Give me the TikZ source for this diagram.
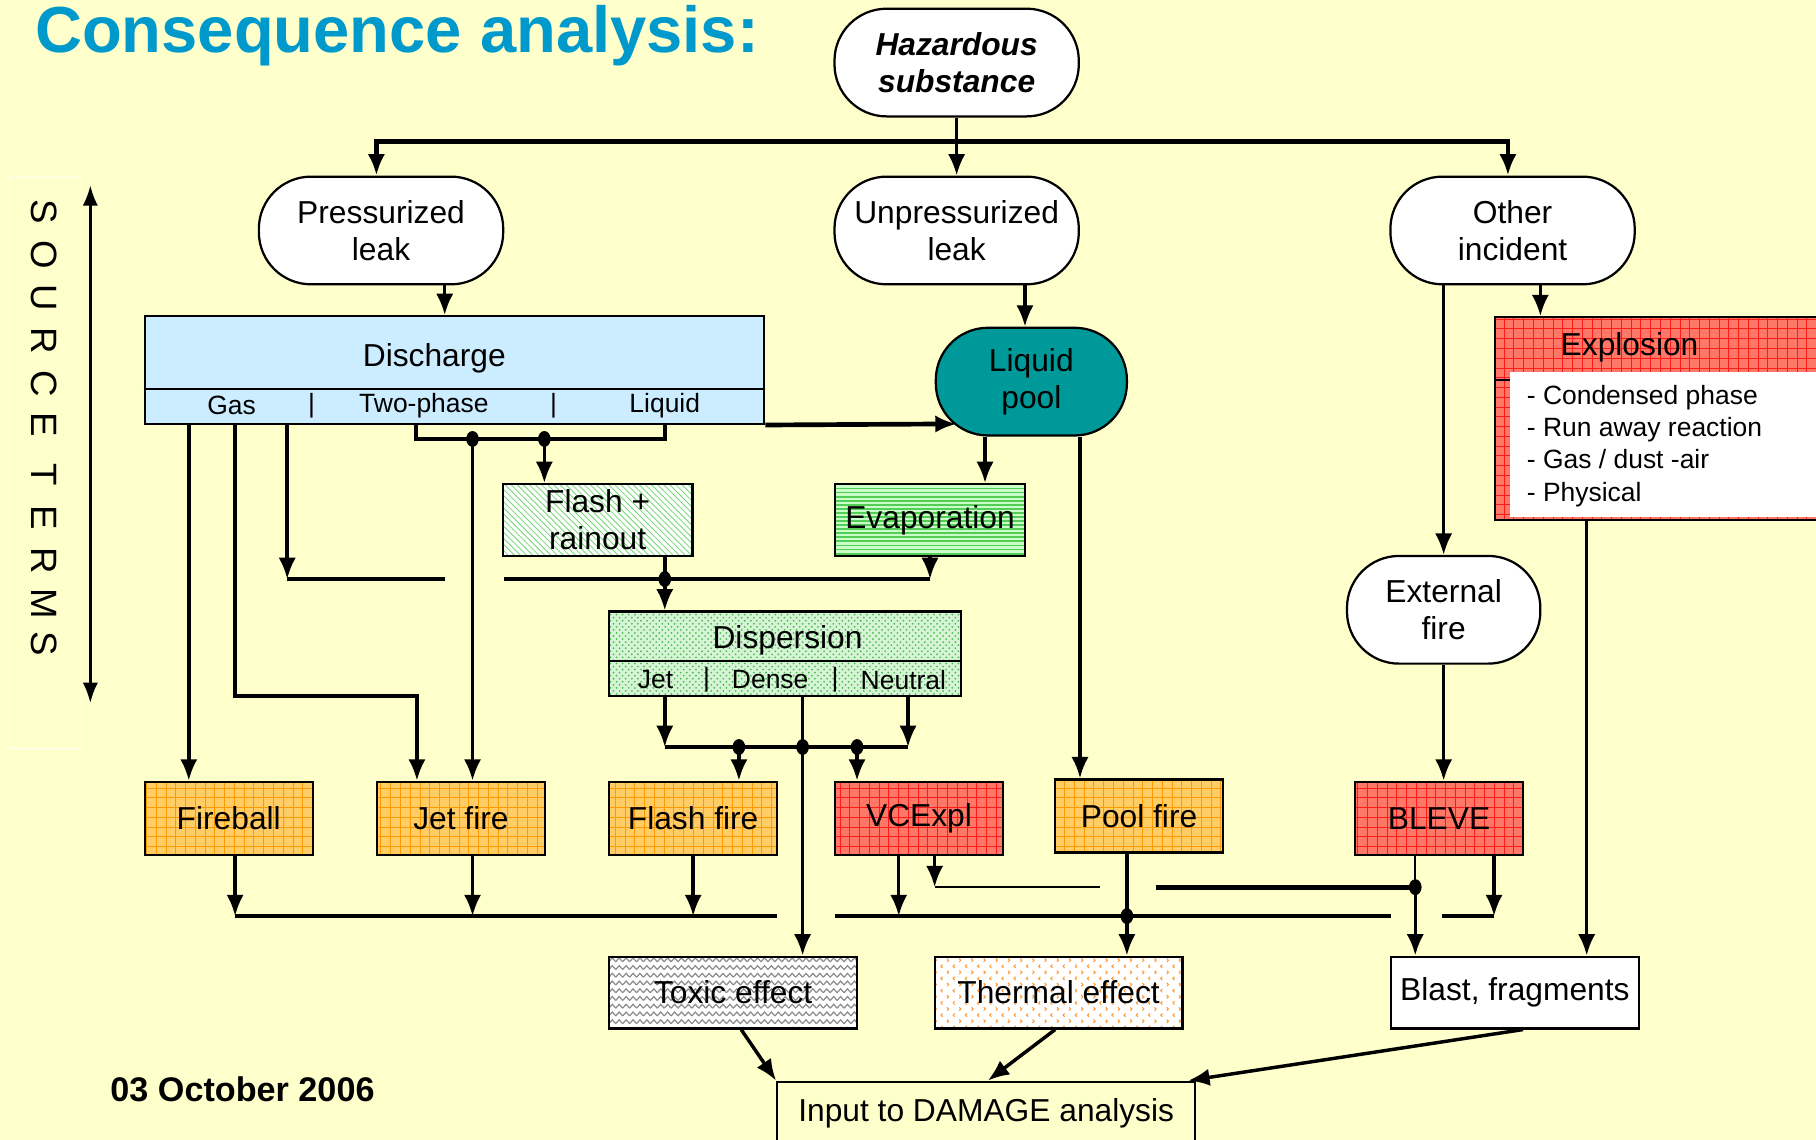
\documentclass[tikz,border=0pt]{standalone}
\usepackage{fontspec}
\setmainfont{Liberation Sans}
\usetikzlibrary{arrows.meta,positioning,calc,patterns}
\definecolor{slideBg}  {HTML}{FFFFCC}
\definecolor{titleBlue}{HTML}{0099CC}
\definecolor{dischFill}{HTML}{CCECFF}
\definecolor{poolTeal} {HTML}{009999}
\definecolor{fireFill} {HTML}{FFCC66}
\definecolor{fireLine} {HTML}{FF9900}
\definecolor{blastFill}{HTML}{FF7766}
\definecolor{blastLine}{HTML}{FF1A1A}
\definecolor{evapFill} {HTML}{C8FFC8}
\definecolor{evapLine} {HTML}{55CC55}
\definecolor{rainLine} {HTML}{77D877}
\definecolor{dispFill} {HTML}{D6F5D6}
\definecolor{dispDot}  {HTML}{55BB55}
\definecolor{toxLine}  {HTML}{8C8C8C}
\definecolor{heatMark} {HTML}{FF9933}
\newcommand{\mainSize}{\fontsize{15.6}{18.1}\selectfont}
\newcommand{\subSize}{\fontsize{13}{15.9}\selectfont}

\pgfdeclarepatternformonly{cellGrid}{\pgfqpoint{-0.5pt}{-0.5pt}}{\pgfqpoint{5.3pt}{5.3pt}}{\pgfqpoint{4.8pt}{4.8pt}}{%
  \pgfsetlinewidth{0.45pt}%
  \pgfpathmoveto{\pgfqpoint{0pt}{0pt}}\pgfpathlineto{\pgfqpoint{4.8pt}{0pt}}%
  \pgfpathmoveto{\pgfqpoint{0pt}{0pt}}\pgfpathlineto{\pgfqpoint{0pt}{4.8pt}}%
  \pgfusepath{stroke}}
\pgfdeclarepatternformonly{thinRows}{\pgfqpoint{-0.5pt}{-0.5pt}}{\pgfqpoint{2.5pt}{2.5pt}}{\pgfqpoint{2pt}{2pt}}{%
  \pgfsetlinewidth{0.9pt}%
  \pgfpathmoveto{\pgfqpoint{-0.1pt}{0pt}}\pgfpathlineto{\pgfqpoint{2.1pt}{0pt}}%
  \pgfusepath{stroke}}
\pgfdeclarepatternformonly{zigRows}{\pgfqpoint{-0.5pt}{-0.5pt}}{\pgfqpoint{4pt}{4.5pt}}{\pgfqpoint{3.4pt}{3.8pt}}{%
  \pgfsetlinewidth{0.6pt}%
  \pgfpathmoveto{\pgfqpoint{0pt}{0pt}}\pgfpathlineto{\pgfqpoint{1.7pt}{1.9pt}}\pgfpathlineto{\pgfqpoint{3.4pt}{0pt}}%
  \pgfusepath{stroke}}
\pgfdeclarepatternformonly{heatTicks}{\pgfqpoint{-0.5pt}{-0.5pt}}{\pgfqpoint{6.5pt}{6.5pt}}{\pgfqpoint{6pt}{6pt}}{%
  \pgfsetlinewidth{0.5pt}%
  \pgfpathmoveto{\pgfqpoint{1.2pt}{0.4pt}}\pgfpathlineto{\pgfqpoint{0.4pt}{1.2pt}}\pgfpathlineto{\pgfqpoint{1.2pt}{2pt}}%
  \pgfpathmoveto{\pgfqpoint{3.4pt}{3.4pt}}\pgfpathlineto{\pgfqpoint{4.2pt}{4.2pt}}\pgfpathlineto{\pgfqpoint{3.4pt}{5pt}}%
  \pgfusepath{stroke}}

\tikzset{
  >=Latex,
  leakNode/.style={draw,line width=1.1pt,fill=white,rounded corners=0.9cm,
                   minimum width=4.22cm,minimum height=1.86cm,
                   align=center,font=\mainSize,inner sep=2pt},
  stepBox/.style={draw,line width=1.1pt,minimum width=2.9cm,minimum height=1.26cm,
                  align=center,font=\mainSize,inner sep=1pt},
  fireBox/.style={stepBox,preaction={fill=fireFill},pattern=cellGrid,pattern color=fireLine},
  blastBox/.style={stepBox,preaction={fill=blastFill},pattern=cellGrid,pattern color=blastLine},
  effectBox/.style={stepBox,minimum width=4.28cm,minimum height=1.24cm},
  splitBox/.style={draw,line width=1.1pt,inner sep=0pt},
  subLbl/.style={font=\subSize,inner sep=0pt},
  flowArr/.style={-{Latex[length=10.5pt,width=8.5pt]},line width=1.7pt},
  flowLine/.style={line width=1.7pt},
  busLine/.style={line width=2.3pt},
  thinLine/.style={line width=0.9pt},
}

\begin{document}
\begin{tikzpicture}[x=0.02cm,y=-0.02cm]
\useasboundingbox (0,0) rectangle (1568,984);
\clip (0,0) rectangle (1568,984);
\fill[slideBg] (0,0) rectangle (1568,984);

\node[anchor=base west,inner sep=0pt,text=titleBlue,
      font=\fontsize{32}{36}\selectfont\bfseries] (title) at (30,45) {Consequence analysis:};
\node[anchor=base west,inner sep=0pt,
      font=\fontsize{16.8}{20}\selectfont\bfseries] (dateTxt) at (95,951) {03 October 2006};

% source terms strip
\node[draw=white,line width=0.6pt,anchor=north west,minimum width=1.24cm,
      minimum height=9.86cm,inner sep=0pt] (srcBox) at (8,153) {};
\foreach \ch/\yy [count=\i] in {S/183,O/220,U/257,R/294,C/331,E/367,T/410,E/447,R/484,M/521,S/556}
  \node[rotate=-90,font=\fontsize{18}{20}\selectfont,inner sep=0pt] (src\i) at (38,\yy) {\ch};
\coordinate (srcTop) at (78,160);
\coordinate (srcBot) at (78,607);
\draw[{Latex[length=10pt,width=7.5pt]}-{Latex[length=10pt,width=7.5pt]},line width=1.3pt] (srcTop) -- (srcBot);

% incidents
\node[leakNode,font=\mainSize\bfseries\itshape] (hazard) at (826,54) {Hazardous\\substance};
\node[leakNode] (press)   at (329,199)  {Pressurized\\leak};
\node[leakNode] (unpress) at (826,199)  {Unpressurized\\leak};
\node[leakNode] (other)   at (1306,199) {Other\\incident};
\node[leakNode,minimum width=3.34cm] (extfire) at (1246.5,526.5) {External\\fire};
\node[leakNode,fill=poolTeal,minimum width=3.3cm] (pool) at (890.5,329.5) {Liquid\\pool};

% discharge block
\node[splitBox,fill=dischFill,minimum width=10.7cm,minimum height=1.86cm] (discharge) at (392.5,319.5) {};
\coordinate (dischDiv) at (0,336);
\draw[line width=1.1pt] (discharge.west |- dischDiv) -- (discharge.east |- dischDiv);
\node[font=\mainSize,inner sep=0pt] (dischTxt) at (375,309) {Discharge};
\node[subLbl] (gasTxt) at (200,350) {Gas};
\node[subLbl] (sepA)   at (269,350) {|};
\node[subLbl] (twoTxt) at (366,350) {Two-phase};
\node[subLbl] (sepB)   at (478,350) {|};
\node[subLbl] (liqTxt) at (574,350) {Liquid};

\node[stepBox,preaction={fill=white},pattern=north west lines,pattern color=rainLine,
      minimum width=3.28cm,minimum height=1.24cm] (flash) at (516,449) {Flash +\\rainout};
\node[stepBox,preaction={fill=evapFill},pattern=thinRows,pattern color=evapLine,
      minimum width=3.28cm,minimum height=1.24cm] (evap) at (803,449) {Evaporation};

% dispersion block
\node[splitBox,preaction={fill=dispFill},pattern=crosshatch dots,pattern color=dispDot,
      minimum width=6.08cm,minimum height=1.46cm] (disp) at (678,564.5) {};
\coordinate (dispDiv) at (0,571);
\draw[line width=1.1pt] (disp.west |- dispDiv) -- (disp.east |- dispDiv);
\node[font=\mainSize,inner sep=0pt] (dispTxt) at (680,553) {Dispersion};
\node[subLbl] (jetTxt)   at (566,587) {Jet};
\node[subLbl] (sepC)     at (610,587) {|};
\node[subLbl] (denseTxt) at (665,587) {Dense};
\node[subLbl] (sepD)     at (721,587) {|};
\node[subLbl] (neuTxt)   at (780,587) {Neutral};

% explosion block
\node[splitBox,preaction={fill=blastFill},pattern=cellGrid,pattern color=blastLine,
      anchor=north west,minimum width=6cm,minimum height=3.5cm] (explosion) at (1290,273) {};
\coordinate (explDiv) at (0,328);
\draw[line width=1.1pt] (explosion.west |- explDiv) -- (explosion.east |- explDiv);
\node[fill=white,anchor=north west,minimum width=6cm,minimum height=2.5cm,inner sep=0pt] (explList) at (1303,321) {};
\node[font=\mainSize,inner sep=0pt] (explTxt) at (1407,300) {Explosion};
\node[anchor=west,align=left,font=\subSize,inner sep=0pt] (explItems) at (1318,385)
  {- Condensed phase\\- Run away reaction\\- Gas / dust -air\\- Physical};

% outcomes
\node[fireBox]  (fireball)  at (197.5,706.5) {Fireball};
\node[fireBox]  (jetfire)   at (398,706.5)   {Jet fire};
\node[fireBox]  (flashfire) at (598.5,706.5) {Flash fire};
\node[blastBox] (vce)       at (793.5,706.5) {VCExpl};
\node[fireBox]  (poolfire)  at (983.5,704.5) {Pool fire};
\node[blastBox] (bleve)     at (1242.5,706.5) {BLEVE};

\node[effectBox,preaction={fill=white},pattern=zigRows,pattern color=toxLine] (toxic) at (633,857) {Toxic effect};
\node[effectBox,preaction={fill=white},pattern=heatTicks,pattern color=heatMark] (thermal) at (914,857) {Thermal effect};
\node[effectBox,fill=white] (blast) at (1308,857) {Blast, fragments};
\node[stepBox,anchor=north,minimum width=7.22cm,minimum height=1.1cm] (input) at (851.5,933) {Input to DAMAGE analysis};

% top of the tree
\coordinate (hzBus) at (826,122);
\draw[flowArr] (hazard.south) -- (unpress.north);
\draw[flowArr,line width=2.2pt] (hzBus) -| ([xshift=-0.08cm]press.north);
\draw[flowArr,line width=2.2pt] (hzBus) -| ([xshift=-0.08cm]other.north);
\draw[flowArr] ([xshift=1.1cm]press.south) -- ([xshift=1.1cm]press.south |- discharge.north);
\draw[flowArr] ([xshift=1.18cm]unpress.south) -- ([xshift=1.18cm]unpress.south |- pool.north);
\coordinate (poolIn) at (826,366);
\draw[flowArr,line width=2.3pt] (discharge.south east) -- (poolIn);

% discharge outlets
\coordinate (twoL) at (359,366);
\coordinate (twoR) at (574,366);
\coordinate (dotA) at (408,379);
\coordinate (dotB) at (470,379);
\draw[flowLine] (twoL) |- (dotA) -- (dotB) -| (twoR);
\draw[flowArr] (dotA) -- (dotA |- jetfire.north);
\draw[flowArr] (dotB) -- (dotB |- flash.north);

\coordinate (gasA) at (163,366);
\coordinate (gasB) at (203,366);
\coordinate (gasBend) at (203,601);
\coordinate (gasC) at (248,366);
\coordinate (mixL) at (248,500);
\coordinate (gapL) at (384,500);
\coordinate (gapR) at (435,500);
\coordinate (mixJ) at (574,500);
\draw[flowArr] (gasA) -- (gasA |- fireball.north);
\draw[flowArr] (gasB) -- (gasBend) -| ([xshift=-0.76cm]jetfire.north);
\draw[flowArr] (gasC) -- (mixL);
\draw[busLine] (mixL) -- (gapL);
\draw[busLine] (gapR) -- (evap.south |- gapR);
\draw[flowArr] (evap.south) -- (evap.south |- gapR);
\draw[flowLine] (flash.south -| mixJ) -- (mixJ);
\draw[flowArr] (mixJ) -- (mixJ |- disp.north);

\draw[flowArr] ([xshift=-0.8cm]pool.south) -- ([xshift=-0.8cm]pool.south |- evap.north);
\draw[flowArr] ([xshift=0.84cm]pool.south) -- ([xshift=0.84cm]pool.south |- poolfire.north);

% dispersion outlets
\coordinate (dJet) at (574,601);
\coordinate (dNeu) at (784,601);
\coordinate (dDen) at (693,601);
\coordinate (dBusL) at (574,645);
\coordinate (dBusR) at (784,645);
\coordinate (dotFF) at (638,645);
\coordinate (dotMid) at (693,645);
\coordinate (dotVC) at (740,645);
\draw[flowArr] (dJet) -- (dBusL);
\draw[flowArr] (dNeu) -- (dBusR);
\draw[busLine] (dBusL) -- (dBusR);
\draw[flowArr] (dotFF) -- (dotFF |- flashfire.north);
\draw[flowArr] (dotVC) -- (dotVC |- vce.north);
\draw[flowArr] (dDen) -- (dDen |- toxic.north);

% other incident
\draw[flowArr] (other.south -| extfire.north) -- (extfire.north);
\draw[flowArr] ([xshift=0.48cm]other.south) -- ([xshift=0.48cm]other.south |- explosion.north);
\draw[flowArr] (extfire.south) -- (extfire.south |- bleve.north);
\coordinate (explOut) at (1370,448);
\draw[flowArr] (explOut) -- (explOut |- blast.north);

% outcomes into effects
\coordinate (thL) at (203,791);
\coordinate (thGapL) at (671,791);
\coordinate (thGapR) at (721,791);
\coordinate (thR) at (1201,791);
\coordinate (dotPF) at (973,791);
\coordinate (blStubL) at (1245,791);
\coordinate (blStubR) at (1290,791);
\coordinate (blsL) at (807,766);
\coordinate (blsGapL) at (950,766);
\coordinate (blsGapR) at (998,766);
\coordinate (dotBL) at (1222,766);
\draw[busLine] (thL) -- (thGapL);
\draw[busLine] (thGapR) -- (thR);
\draw[busLine] (blStubL) -- (blStubR);
\draw[flowArr] (fireball.south -| thL) -- (thL);
\draw[flowArr] (jetfire.south -| dotA) -- (dotA |- thL);
\draw[flowArr] (flashfire.south) -- (flashfire.south |- thL);
\draw[flowArr] ([xshift=-0.35cm]vce.south) -- ([xshift=-0.35cm]vce.south |- thL);
\draw[flowArr] (vce.south -| blsL) -- (blsL);
\draw[thinLine] (blsL) -- (blsGapL);
\draw[busLine] (blsGapR) -- (dotBL);
\draw[thinLine] (bleve.south -| dotBL) -- (dotBL);
\draw[flowArr] (dotBL) -- (dotBL |- blast.north);
\draw[flowArr] (bleve.south -| blStubR) -- (blStubR);
\draw[flowLine] (poolfire.south -| dotPF) -- (dotPF);
\draw[flowArr] (dotPF) -- (dotPF |- thermal.north);

\foreach \p in {dotA,dotB,mixJ,dotFF,dotMid,dotVC,dotPF,dotBL}
  \fill (\p) ellipse [x radius=3.1pt,y radius=3.9pt];

% effects into damage analysis
\draw[flowArr] ([xshift=0.14cm]toxic.south) -- (input.north west);
\draw[flowArr] ([xshift=-0.06cm]thermal.south) -- ([xshift=0.03cm]input.north);
\draw[flowArr] ([xshift=0.14cm]blast.south) -- ([xshift=-0.14cm]input.north east);

\end{tikzpicture}
\end{document}
